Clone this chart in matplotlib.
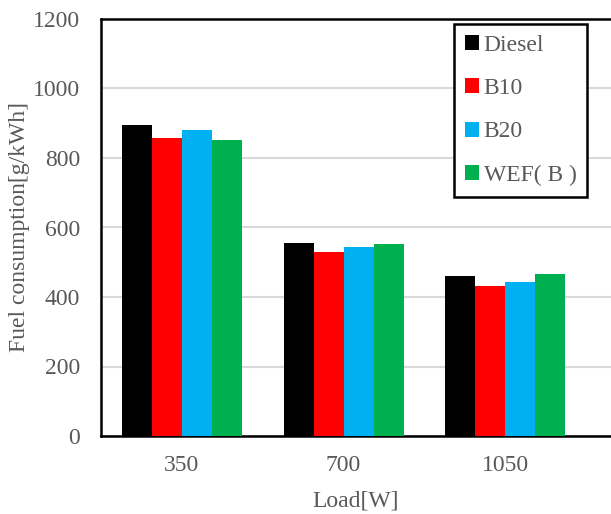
import matplotlib

matplotlib.use("Agg")
import matplotlib.pyplot as plt
import numpy as np

loads = ["350", "700", "1050"]
series_names = ["Diesel", "B10", "B20", "WEF( B )"]
diesel = [895, 556, 461]
b10 = [857, 529, 432]
b20 = [882, 543, 443]
wef_b = [852, 553, 465]
colors = ["#000000", "#FF0000", "#00B0F0", "#00B050"]

TEXT = "#595959"
plt.rcParams["font.family"] = ["Liberation Serif", "DejaVu Serif"]
plt.rcParams["font.size"] = 17

fig = plt.figure(figsize=(6.11, 5.14), dpi=100)
ax = fig.add_axes([101 / 611, 78 / 514, 510 / 611, 417 / 514])

x = np.arange(len(loads))
width = 0.1855
for i, (name, vals) in enumerate(zip(series_names, [diesel, b10, b20, wef_b])):
    ax.bar(x + (i - 1.5) * width, vals, width, color=colors[i], label=name, zorder=3)

ax.set_xlim(-0.5, -0.5 + 510 / 161.7)
ax.set_ylim(0, 1200)
ax.set_yticks(range(0, 1201, 200))
ax.set_xticks(x)
ax.set_xticklabels(loads)
ax.tick_params(length=0, colors=TEXT, labelsize=17)
ax.tick_params(axis="y", pad=15)
ax.tick_params(axis="x", pad=14)
ax.yaxis.grid(True, color="#D9D9D9", linewidth=1.5, zorder=0)
for side in ["left", "bottom", "top"]:
    ax.spines[side].set_linewidth(1.8)
    ax.spines[side].set_color("black")
ax.spines["right"].set_visible(False)

ax.set_xlabel("Load[W]", color=TEXT, fontsize=17, labelpad=10)
ax.set_ylabel("Fuel consumption[g/kWh]", color=TEXT, fontsize=17, labelpad=2)

leg = ax.legend(loc="upper left", bbox_to_anchor=(454 / 611, 1 - 24 / 514),
                bbox_transform=fig.transFigure, borderaxespad=0, fancybox=False,
                framealpha=1, edgecolor="black", handlelength=0.6, handleheight=0.6,
                handletextpad=0.2, labelspacing=0.95, borderpad=0.45, fontsize=17)
leg.get_frame().set_linewidth(1.8)
for t in leg.get_texts():
    t.set_color(TEXT)

fig.savefig("out.png", dpi=100)
